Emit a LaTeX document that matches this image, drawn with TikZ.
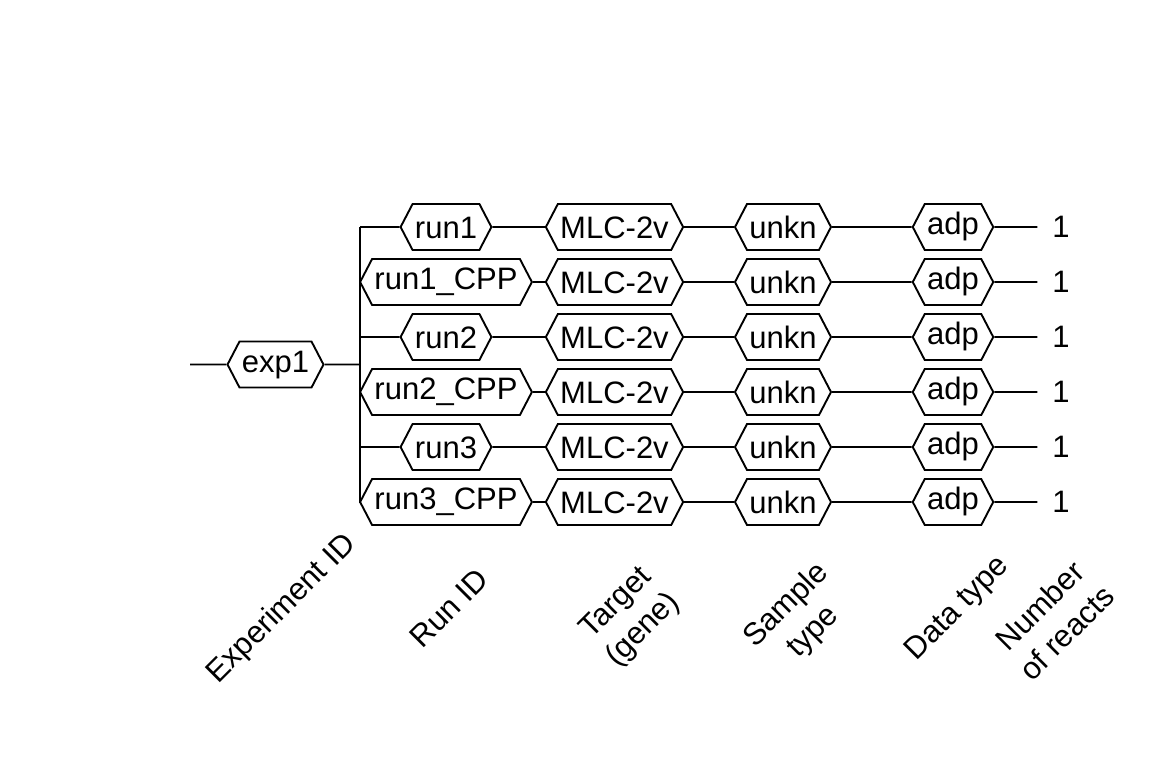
\documentclass[tikz,border=0pt]{standalone}
\usepackage{fontspec}
\setmainfont{Liberation Sans}
\usetikzlibrary{shapes.symbols}

\tikzset{
    hexa/.style={draw, signal, signal to=east and west, signal pointer angle=125,
        minimum height=23pt, inner xsep=1.2pt, inner ysep=0pt,
        text height=11.1pt, text depth=0pt},
    hexadesc/.style={hexa, text depth=3.3pt},
    count/.style={inner xsep=7pt, inner ysep=0pt},
    axislabel/.style={rotate=45, align=center, inner sep=0pt}
}

\begin{document}
\begin{tikzpicture}[x=0.5pt, y=-0.5pt, line width=0.95pt,
        font=\fontsize{15.5}{19}\selectfont]
    \useasboundingbox[fill=white] (0,0) rectangle (1152,768);

    \coordinate (root) at (190,364.5);
    \node[hexadesc] (exp1) at (275.5,364.5) {exp1};
    \coordinate (split) at (360,364.5);

    \node[hexa] (r1) at (446,227) {run1};
    \node[hexadesc] (r2) at (446,282) {run1\_CPP};
    \node[hexa] (r3) at (446,337) {run2};
    \node[hexadesc] (r4) at (446,392) {run2\_CPP};
    \node[hexa] (r5) at (446,447) {run3};
    \node[hexadesc] (r6) at (446,502) {run3\_CPP};

    \node[hexa] (g1) at (614.5,227) {MLC-2v};
    \node[hexa] (g2) at (614.5,282) {MLC-2v};
    \node[hexa] (g3) at (614.5,337) {MLC-2v};
    \node[hexa] (g4) at (614.5,392) {MLC-2v};
    \node[hexa] (g5) at (614.5,447) {MLC-2v};
    \node[hexa] (g6) at (614.5,502) {MLC-2v};

    \node[hexa] (s1) at (783,227) {unkn};
    \node[hexa] (s2) at (783,282) {unkn};
    \node[hexa] (s3) at (783,337) {unkn};
    \node[hexa] (s4) at (783,392) {unkn};
    \node[hexa] (s5) at (783,447) {unkn};
    \node[hexa] (s6) at (783,502) {unkn};

    \node[hexadesc] (d1) at (953,227) {adp};
    \node[hexadesc] (d2) at (953,282) {adp};
    \node[hexadesc] (d3) at (953,337) {adp};
    \node[hexadesc] (d4) at (953,392) {adp};
    \node[hexadesc] (d5) at (953,447) {adp};
    \node[hexadesc] (d6) at (953,502) {adp};

    \node[count] (n1) at (1061,227) {1};
    \node[count] (n2) at (1061,282) {1};
    \node[count] (n3) at (1061,337) {1};
    \node[count] (n4) at (1061,392) {1};
    \node[count] (n5) at (1061,447) {1};
    \node[count] (n6) at (1061,502) {1};

    \draw (root) -- (exp1) -- (split);
    \draw (split |- r1) -- (split |- r6);
    \draw (split |- r1) -- (r1) -- (g1) -- (s1) -- (d1) -- (n1);
    \draw (split |- r2) -- (r2) -- (g2) -- (s2) -- (d2) -- (n2);
    \draw (split |- r3) -- (r3) -- (g3) -- (s3) -- (d3) -- (n3);
    \draw (split |- r4) -- (r4) -- (g4) -- (s4) -- (d4) -- (n4);
    \draw (split |- r5) -- (r5) -- (g5) -- (s5) -- (d5) -- (n5);
    \draw (split |- r6) -- (r6) -- (g6) -- (s6) -- (d6) -- (n6);

    \node[axislabel] (lexp) at (282,609) {Experiment ID};
    \node[axislabel] (lrun) at (449,608) {Run ID};
    \node[axislabel] (ltarget) at (630,617) {Target\\(gene)};
    \node[axislabel] (lsample) at (800,619) {Sample\\type};
    \node[axislabel] (ldata) at (958,609) {Data type};
    \node[axislabel] (lnumber) at (1053,619) {Number\\of reacts};
\end{tikzpicture}
\end{document}
